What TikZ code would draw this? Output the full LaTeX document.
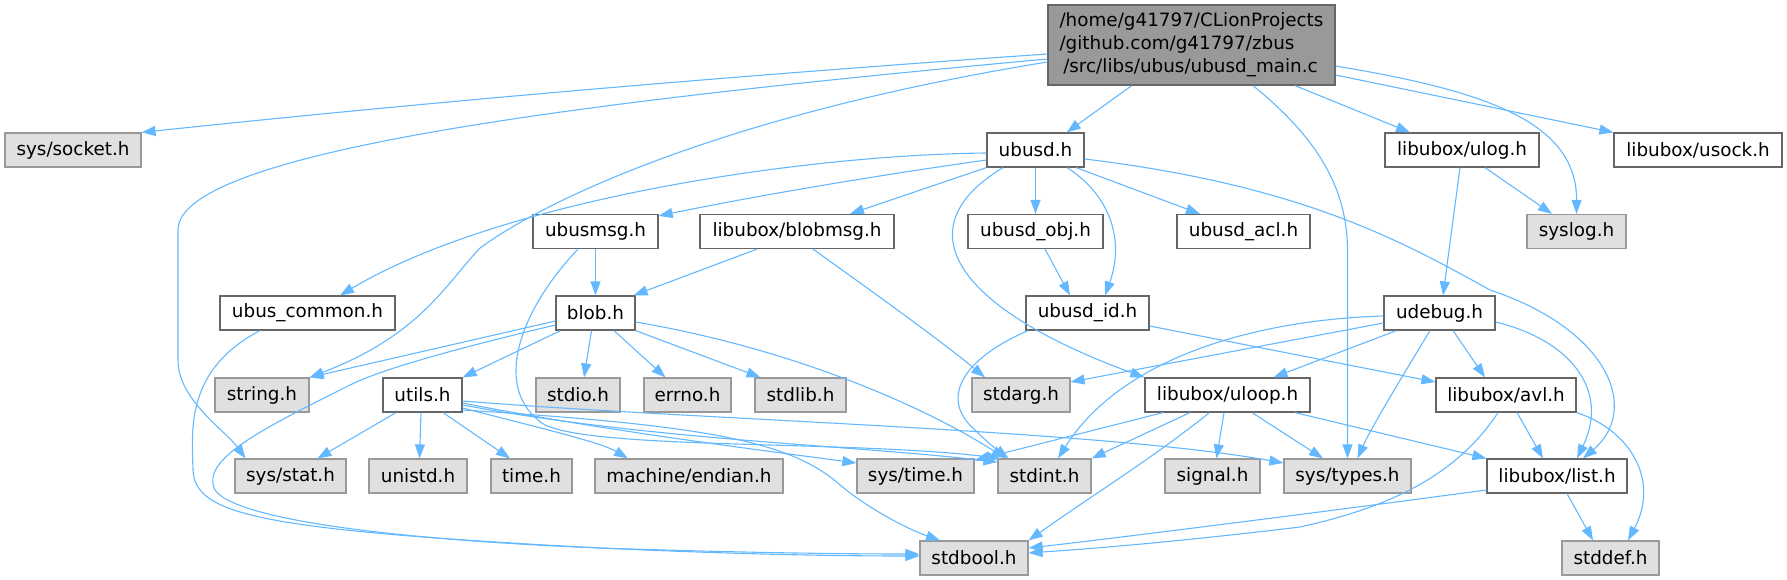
\documentclass[tikz,border=0pt]{standalone}
\usepackage{fontspec}
\setmainfont{DejaVu Sans}
\usetikzlibrary{arrows.meta}
\definecolor{edgec}{HTML}{63B8FF}
\definecolor{bord}{HTML}{666666}
\definecolor{sysbord}{HTML}{999999}
\definecolor{sysfill}{HTML}{E0E0E0}
\definecolor{mainfill}{HTML}{999999}
\begin{document}
\begin{tikzpicture}[x=1pt,y=-1pt,
  nd/.style={draw=bord, fill=white, line width=1.2pt, minimum height=34pt, inner sep=0pt,
    font=\fontsize{18.35pt}{23pt}\selectfont},
  sysnd/.style={nd, draw=sysbord, fill=sysfill},
  mainnd/.style={nd, fill=mainfill, minimum height=80pt, align=left},
  edge/.style={draw=edgec, line width=1.1pt, -{Triangle[length=14pt,width=10pt]}, fill=none}
]
\useasboundingbox (0,0) rectangle (1787,580);

% nodes
\node[mainnd, minimum width=287pt] (main) at (1191.5,45) {/home/g41797/CLionProjects\\/github.com/g41797/zbus\\\hspace{3.7pt}/src/libs/ubus/ubusd\_main.c};
\node[sysnd, minimum width=136pt] (socket) at (73,150) {sys/socket.h};
\node[nd, minimum width=97pt] (ubusd) at (1035.5,150) {ubusd.h};
\node[nd, minimum width=154pt] (ulog) at (1462,150) {libubox/ulog.h};
\node[nd, minimum width=168pt] (usock) at (1698,150) {libubox/usock.h};
\node[nd, minimum width=125pt] (ubusmsg) at (595.5,231.5) {ubusmsg.h};
\node[nd, minimum width=194pt] (blobmsg) at (797,231.5) {libubox/blobmsg.h};
\node[nd, minimum width=135pt] (obj) at (1035.5,231.5) {ubusd\_obj.h};
\node[nd, minimum width=133pt] (acl) at (1243.5,231.5) {ubusd\_acl.h};
\node[sysnd, minimum width=99pt] (syslog) at (1576.5,231.5) {syslog.h};
\node[nd, minimum width=175pt] (common) at (307.5,313) {ubus\_common.h};
\node[nd, minimum width=79pt] (blob) at (595.5,313) {blob.h};
\node[nd, minimum width=123pt] (id) at (1087.5,313) {ubusd\_id.h};
\node[nd, minimum width=111pt] (udebug) at (1439.5,313) {udebug.h};
\node[sysnd, minimum width=94pt] (string) at (262,395) {string.h};
\node[nd, minimum width=79pt] (utils) at (422.5,395) {utils.h};
\node[sysnd, minimum width=84pt] (stdio) at (578,395) {stdio.h};
\node[sysnd, minimum width=87pt] (errno) at (687.5,395) {errno.h};
\node[sysnd, minimum width=91pt] (stdlib) at (800.5,395) {stdlib.h};
\node[sysnd, minimum width=98pt] (stdarg) at (1021,395) {stdarg.h};
\node[nd, minimum width=165pt] (uloop) at (1227.5,395) {libubox/uloop.h};
\node[nd, minimum width=140pt] (avl) at (1506,395) {libubox/avl.h};
\node[sysnd, minimum width=111pt] (stat) at (290.5,476) {sys/stat.h};
\node[sysnd, minimum width=98pt] (unistd) at (418,476) {unistd.h};
\node[sysnd, minimum width=81pt] (time) at (531.5,476) {time.h};
\node[sysnd, minimum width=188pt] (endian) at (689,476) {machine/endian.h};
\node[sysnd, minimum width=117pt] (systime) at (915.5,476) {sys/time.h};
\node[sysnd, minimum width=93pt] (stdint) at (1044.5,476) {stdint.h};
\node[sysnd, minimum width=95pt] (signal) at (1212.5,476) {signal.h};
\node[sysnd, minimum width=127pt] (types) at (1347.5,476) {sys/types.h};
\node[nd, minimum width=140pt] (list) at (1557,476) {libubox/list.h};
\node[sysnd, minimum width=108pt] (stdbool) at (974,558) {stdbool.h};
\node[sysnd, minimum width=97pt] (stddef) at (1610.5,558) {stddef.h};

% main
\draw[edge] ([yshift=-9pt]main.west) .. controls (700,78) and (400,105) .. (socket.north east);
\draw[edge] ([yshift=-14pt]main.west) .. controls (600,100) and (178,150) .. (178,230) -- (178,360) .. controls (178,400) and (225,430) .. ([xshift=-45pt]stat.north);
\draw[edge] ([yshift=-17pt]main.west) .. controls (750,110) and (560,190) .. (480,248) .. controls (445,285) and (420,335) .. (string.north east);
\draw[edge] ([xshift=-59.8pt]main.south) -- ([xshift=31.2pt]ubusd.north);
\draw[edge] ([xshift=61.5pt]main.south) .. controls (1320,140) and (1347,190) .. (1347.5,250) -- (types.north);
\draw[edge] ([xshift=103.5pt]main.south) -- ([xshift=-52pt]ulog.north);
\draw[edge] ([yshift=-21pt]main.east) .. controls (1480,90) and (1577,120) .. (syslog.north);
\draw[edge] ([yshift=-30pt]main.east) -- (usock.north west);
% ulog
\draw[edge] ([xshift=23pt]ulog.south) -- ([xshift=-24.5pt]syslog.north);
\draw[edge] ([xshift=-2pt]ulog.south) -- ([xshift=3.5pt]udebug.north);
% ubusd
\draw[edge] ([yshift=-3pt]ubusd.west) .. controls (800,155) and (500,200) .. ([xshift=32.5pt]common.north);
\draw[edge] ([yshift=-10pt]ubusd.west) .. controls (880,175) and (760,195) .. ([yshift=-2pt]ubusmsg.north east);
\draw[edge] (ubusd.south west) -- ([xshift=53pt]blobmsg.north);
\draw[edge] (ubusd.south) -- (obj.north);
\draw[edge] ([xshift=40.5pt]ubusd.south) -- ([xshift=-43.5pt]acl.north);
\draw[edge] ([xshift=31.5pt]ubusd.south) .. controls (1110,195) and (1125,240) .. ([xshift=17.5pt]id.north);
\draw[edge] ([xshift=-32.5pt]ubusd.south) .. controls (900,230) and (960,310) .. (uloop.north west);
\draw[edge] ([yshift=-9pt]ubusd.east) .. controls (1300,185) and (1400,240) .. (1490,290) .. controls (1610,330) and (1640,410) .. ([xshift=26pt]list.north);
% ubusmsg, blobmsg, obj
\draw[edge] (ubusmsg.south) -- (blob.north);
\draw[edge] ([xshift=-17.5pt]ubusmsg.south) .. controls (520,310) and (490,390) .. (545,425) .. controls (600,450) and (850,440) .. ([xshift=-44pt]stdint.north);
\draw[edge] ([xshift=-40pt]blobmsg.south) -- ([xshift=-2pt]blob.north east);
\draw[edge] ([xshift=16pt]blobmsg.south) .. controls (870,290) and (940,340) .. ([xshift=-36pt]stdarg.north);
\draw[edge] ([xshift=9.5pt]obj.south) -- ([xshift=-17.5pt]id.north);
% common
\draw[edge] ([xshift=-47.5pt]common.south) .. controls (185,370) and (192,430) .. (193,470) .. controls (195,515) and (260,530) .. (600,548) .. controls (750,555) and (850,556) .. ([yshift=2pt]stdbool.west);
% blob
\draw[edge] ([yshift=-12pt]blob.west) .. controls (450,350) and (380,370) .. (350,385) .. controls (260,430) and (200,460) .. (215,490) .. controls (235,520) and (400,540) .. (600,548) .. controls (750,553) and (850,554) .. ([yshift=4pt]stdbool.west);
\draw[edge] ([yshift=-8pt]blob.west) -- (string.north east);
\draw[edge] ([xshift=-35pt]blob.south) -- (utils.north east);
\draw[edge] ([xshift=-4pt]blob.south) -- ([xshift=6pt]stdio.north);
\draw[edge] ([xshift=18.5pt]blob.south) -- ([xshift=-22pt]errno.north);
\draw[edge] (blob.south east) -- ([xshift=-40pt]stdlib.north);
\draw[edge] ([yshift=-9pt]blob.east) .. controls (800,350) and (930,410) .. ([xshift=-39pt]stdint.north);
% utils
\draw[edge] ([xshift=-26.5pt]utils.south) -- ([xshift=27pt]stat.north);
\draw[edge] ([xshift=-1.5pt]utils.south) -- ([xshift=1.5pt]unistd.north);
\draw[edge] ([xshift=20.5pt]utils.south) -- ([xshift=-21.5pt]time.north);
\draw[edge] ([yshift=-13pt]utils.east) .. controls (540,428) and (600,442) .. ([xshift=-61pt]endian.north);
\draw[edge] ([yshift=-8pt]utils.east) .. controls (600,430) and (760,450) .. ([yshift=13pt]systime.west);
\draw[edge] ([yshift=-10pt]utils.east) .. controls (650,440) and (850,445) .. ([yshift=14pt]stdint.west);
\draw[edge] ([yshift=-6pt]utils.east) .. controls (700,420) and (1100,430) .. ([yshift=13pt]types.west);
\draw[edge] ([yshift=-15pt]utils.east) .. controls (700,425) and (790,440) .. (840,485) .. controls (870,510) and (910,530) .. ([xshift=-34pt]stdbool.north);
% id
\draw[edge] ([xshift=-59.5pt]id.south) .. controls (960,360) and (940,400) .. (975,430) .. controls (990,445) and (1000,452) .. ([xshift=-36pt]stdint.north);
\draw[edge] ([yshift=-13pt]id.east) -- ([yshift=13pt]avl.west);
% udebug
\draw[edge] ([yshift=-3pt]udebug.west) .. controls (1250,320) and (1120,360) .. ([xshift=13.5pt]stdint.north);
\draw[edge] ([yshift=-10pt]udebug.west) -- ([yshift=13pt]stdarg.east);
\draw[edge] ([xshift=-43pt]udebug.south) -- ([xshift=46pt]uloop.north);
\draw[edge] ([xshift=-9.5pt]udebug.south) .. controls (1400,380) and (1370,430) .. ([xshift=10pt]types.north);
\draw[edge] ([xshift=13.5pt]udebug.south) -- ([xshift=-21pt]avl.north);
\draw[edge] ([yshift=-9pt]udebug.east) .. controls (1570,340) and (1610,390) .. ([xshift=20pt]list.north);
% uloop
\draw[edge] ([xshift=-64.5pt]uloop.south) -- ([yshift=-2pt]systime.north east);
\draw[edge] ([xshift=-37.5pt]uloop.south) -- (stdint.north east);
\draw[edge] ([xshift=-18pt]uloop.south) .. controls (1150,460) and (1100,490) .. (stdbool.north east);
\draw[edge] ([xshift=-3.5pt]uloop.south) -- ([xshift=4pt]signal.north);
\draw[edge] ([xshift=24.5pt]uloop.south) -- ([xshift=-24.5pt]types.north);
\draw[edge] ([xshift=67.5pt]uloop.south) -- (list.north west);
% avl
\draw[edge] ([xshift=-8pt]avl.south) .. controls (1460,470) and (1400,505) .. (1300,527) .. controls (1150,545) and (1070,550) .. ([yshift=5pt]stdbool.east);
\draw[edge] ([xshift=11pt]avl.south) -- ([xshift=-14pt]list.north);
\draw[edge] (avl.south east) .. controls (1630,430) and (1660,480) .. ([xshift=17.5pt]stddef.north);
% list
\draw[edge] ([yshift=-14pt]list.west) .. controls (1300,515) and (1100,540) .. ([yshift=10pt]stdbool.east);
\draw[edge] ([xshift=10pt]list.south) -- ([xshift=-17.5pt]stddef.north);
\end{tikzpicture}
\end{document}
